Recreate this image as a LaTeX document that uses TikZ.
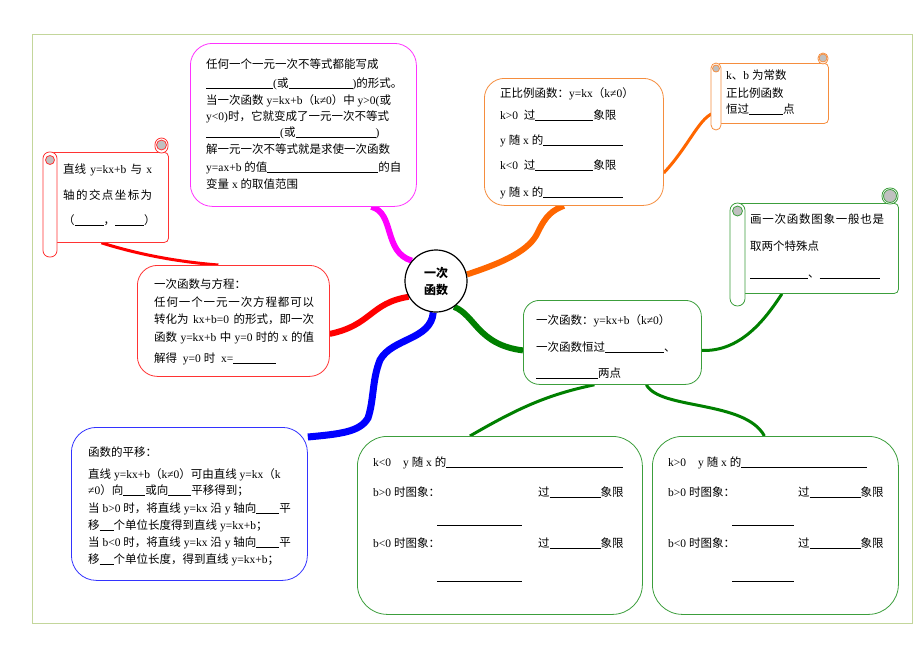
\documentclass[tikz,border=0pt]{standalone}
\usepackage{fontspec}
\setmainfont{Liberation Serif}
\newfontfamily\cjkf{Noto Sans CJK SC}
\XeTeXinterchartokenstate=1
\chardef\cjkcls=7
\makeatletter
\count@="3000
\loop\ifnum\count@<"A000 \XeTeXcharclass\count@=\cjkcls \advance\count@ by 1 \repeat
\count@="FF00
\loop\ifnum\count@<"FFF0 \XeTeXcharclass\count@=\cjkcls \advance\count@ by 1 \repeat
\makeatother
\XeTeXinterchartoks 0 \cjkcls={\begingroup\cjkf}
\XeTeXinterchartoks 4095 \cjkcls={\begingroup\cjkf}
\XeTeXinterchartoks \cjkcls 0={\endgroup}
\XeTeXinterchartoks \cjkcls 4095={\endgroup}
\newcommand\bl[1]{\rule[-1.8pt]{#1pt}{0.6pt}}
\newcommand\spr[2]{\makebox[#1pt][s]{#2}}
\newcommand\hf{\hfill}
\definecolor{magc}{HTML}{FF33FF}
\definecolor{magl}{HTML}{FF00FF}
\definecolor{redc}{HTML}{FF3333}
\definecolor{redl}{HTML}{FF0000}
\definecolor{orc}{HTML}{F58D3E}
\definecolor{orl}{HTML}{FF6600}
\definecolor{grc}{HTML}{3C9E3C}
\definecolor{grl}{HTML}{008000}
\definecolor{blc}{HTML}{3333FF}
\definecolor{bll}{HTML}{0000FF}
\definecolor{framec}{HTML}{C3D69B}
\definecolor{curlc}{HTML}{C0C0C0}
\pgfdeclarelayer{bg}
\pgfsetlayers{bg,main}
\tikzset{
 box/.style={draw=#1, line width=0.8pt, rounded corners=20pt, anchor=north west, fill=white, inner sep=0pt},
 sbody/.style={draw=#1, line width=0.8pt, rounded corners=4pt, anchor=north west, fill=white, inner sep=0pt},
 sroll/.style={draw=#1, line width=0.8pt, fill=white},
 scurl/.style={draw=#1, line width=0.8pt, fill=curlc},
 t/.style={anchor=base west, inner sep=0pt, font=\fontsize{11.5}{13}\selectfont},
 conn/.style={draw=#1, line width=6pt},
 thinconn/.style={draw=#1, line width=3pt},
}
\begin{document}
\begin{tikzpicture}[x=1pt, y=-1pt]
\useasboundingbox (0,0) rectangle (920,651);
\draw[framec, line width=1pt] (32,34) rectangle (912,623);

% ---- boxes
\node[box=magc, rounded corners=22pt, minimum width=226pt, minimum height=163pt] (mag) at (190,43) {};
\node[box=orc, minimum width=179pt, minimum height=127pt] (org) at (484,78) {};
\node[box=redc, minimum width=192pt, minimum height=111pt] (red) at (137,265) {};
\node[box=grc, rounded corners=16pt, minimum width=178pt, minimum height=84pt] (mid) at (523,300) {};
\node[box=blc, rounded corners=25pt, minimum width=236pt, minimum height=153pt] (blu) at (71,427) {};
\node[box=grc, rounded corners=30pt, minimum width=285pt, minimum height=178pt] (bl) at (357,436) {};
\node[box=grc, rounded corners=30pt, minimum width=246pt, minimum height=178pt] (br) at (652,436) {};

% ---- scrolls
% red scroll
\node[sbody=redc, minimum width=118pt, minimum height=90pt] (rs) at (50,152) {};
\draw[sroll=redc, rounded corners=6.5pt] (155,153) rectangle (168,138);
\draw[scurl=redc] (161.5,145) circle (5);
\draw[sroll=redc, rounded corners=6.5pt] (43,152) rectangle (57,257);
\draw[scurl=redc] (50,160) circle (4.5);
% orange scroll
\node[sbody=orc, minimum width=112pt, minimum height=60pt] (os) at (716,63) {};
\draw[sroll=orc, rounded corners=5pt] (818,64) rectangle (828,53);
\draw[scurl=orc] (823,58) circle (4);
\draw[sroll=orc, rounded corners=5pt] (711,63) rectangle (721,130);
\draw[scurl=orc] (716,68.5) circle (3.5);
% green scroll
\node[sbody=grc, minimum width=161pt, minimum height=90pt] (gs) at (737,203) {};
\draw[sroll=grc, rounded corners=7.5pt] (882,204) rectangle (898,188);
\draw[scurl=grc] (890,196) circle (6.5);
\draw[sroll=grc, rounded corners=7.5pt] (730,203) rectangle (745,306);
\draw[scurl=grc] (737.5,211) circle (5);

% ---- centre
\node[circle, draw, line width=1.2pt, fill=white, minimum size=62pt, inner sep=0pt, align=center, font=\fontsize{12}{17}\selectfont\bfseries] (c) at (436,281) {一次\\函数};

% ---- connectors
\begin{pgfonlayer}{bg}
\draw[conn=magl] ([xshift=68pt]mag.south) .. controls (395,213) and (383,252) .. (c.140);
\draw[conn=orl] (c.12) .. controls (505,262) and (530,250) .. (538,232) .. controls (546,215) and (553,210) .. ([xshift=-10pt]org.south);
\draw[conn=redl] (c.210) .. controls (370,303) and (372,325) .. ([yshift=-13pt]red.east);
\draw[conn=bll, line width=7pt] (c.-95) .. controls (431,340) and (392,338) .. (380,360) .. controls (372,380) and (374,400) .. (368,418) .. controls (360,432) and (340,434) .. ([yshift=-10pt]blu.north east);
\draw[conn=grl] (c.-55) .. controls (475,315) and (478,345) .. ([yshift=-8pt]mid.west);
\draw[thinconn=redl] ([xshift=-8pt]rs.south) .. controls (140,255) and (180,262) .. ([xshift=-15pt]red.north);
\draw[thinconn=orl] ([yshift=-31pt]org.east) .. controls (690,145) and (700,115) .. ([yshift=-19pt]os.west);
\draw[thinconn=grl] ([yshift=-8pt]mid.east) .. controls (740,352) and (765,320) .. ([xshift=-36pt]gs.south);
\draw[thinconn=grl] ([xshift=-18pt]mid.south) .. controls (545,395) and (515,410) .. ([xshift=-30pt]bl.north);
\draw[thinconn=grl] ([xshift=34pt]mid.south) .. controls (660,410) and (745,400) .. ([xshift=-11pt]br.north);
\end{pgfonlayer}

% ---- texts: magenta box
\node[t] (m1) at (206,68) {任何一个一元一次不等式都能写成};
\node[t] (m2) at (206,87) {\bl{67}(或\bl{64})的形式。};
\node[t] (m3) at (206,104) {当一次函数 y=kx+b（k≠0）中 y>0(或};
\node[t] (m4) at (206,120) {y<0)时，它就变成了一元一次不等式};
\node[t] (m5) at (206,136) {\bl{74}(或\bl{80})};
\node[t] (m6) at (206,153) {解一元一次不等式就是求使一次函数};
\node[t] (m7) at (206,171) {y=ax+b 的值\bl{111}的自};
\node[t] (m8) at (206,188) {变量 x 的取值范围};
% red scroll
\node[t] (r1) at (63,173) {\spr{89}{直线 y=kx+b 与 x}};
\node[t] (r2) at (63,199) {\spr{89}{轴\hf{}的\hf{}交\hf{}点\hf{}坐\hf{}标\hf{}为}};
\node[t] (r3) at (63,224) {（\bl{29}，\bl{29}）};
% red box
\node[t] (e1) at (154,288) {一次函数与方程：};
\node[t] (e2) at (154,306) {\spr{160}{任\hf{}何\hf{}一\hf{}个\hf{}一\hf{}元\hf{}一\hf{}次\hf{}方\hf{}程\hf{}都\hf{}可\hf{}以}};
\node[t] (e3) at (154,323) {\spr{160}{转化为 kx+b=0 的形式，即一次}};
\node[t] (e4) at (154,341) {\spr{160}{函数 y=kx+b 中 y=0 时的 x 的值}};
\node[t] (e5) at (154,362) {解得\ \ y=0 时\ \ x=\bl{43}};
% orange box
\node[t] (o1) at (500,97) {正比例函数：y=kx（k≠0）};
\node[t] (o2) at (500,119) {k>0\ \ 过\bl{58}象限};
\node[t] (o3) at (500,144) {y 随 x 的\bl{80}};
\node[t] (o4) at (500,169) {k<0\ \ 过\bl{58}象限};
\node[t] (o5) at (500,196) {y 随 x 的\bl{80}};
% orange scroll
\node[t] (s1) at (726,79) {k、b 为常数};
\node[t] (s2) at (726,97) {正比例函数};
\node[t] (s3) at (726,113) {恒过\bl{34}点};
% green scroll
\node[t] (g1) at (750,223) {\spr{134}{画\hf{}一\hf{}次\hf{}函\hf{}数\hf{}图\hf{}象\hf{}一\hf{}般\hf{}也\hf{}是}};
\node[t] (g2) at (750,250) {\spr{69}{取\hf{}两\hf{}个\hf{}特\hf{}殊\hf{}点}};
\node[t] (g3) at (750,277) {\bl{58}、\bl{60}};
% middle box
\node[t] (n1) at (536,324) {一次函数：y=kx+b（k≠0）};
\node[t] (n2) at (536,351) {一次函数恒过\bl{59}、};
\node[t] (n3) at (536,377) {\bl{62}两点};
% blue box
\node[t] (b1) at (88,456) {函数的平移：};
\node[t] (b2) at (88,478) {直线 y=kx+b（k≠0）可由直线 y=kx（k};
\node[t] (b3) at (88,494) {≠0）向\bl{22}或向\bl{23}平移得到；};
\node[t] (b4) at (88,512) {当 b>0 时，将直线 y=kx 沿 y 轴向\bl{23}平};
\node[t] (b5) at (88,529) {移\bl{14}个单位长度得到直线 y=kx+b；};
\node[t] (b6) at (88,546) {当 b<0 时，将直线 y=kx 沿 y 轴向\bl{23}平};
\node[t] (b7) at (88,563) {移\bl{14}个单位长度，得到直线 y=kx+b；};
% bottom left box
\node[t] (la) at (373,466) {k<0};
\node[t] (lb) at (403,466) {y 随 x 的\bl{177}};
\node[t] (lc) at (373,496) {b>0 时图象：};
\node[t] (ld) at (538,496) {过\bl{51}象限};
\node[t] (le) at (437,524) {\bl{85}};
\node[t] (lf) at (373,547) {b<0 时图象：};
\node[t] (lg) at (538,547) {过\bl{51}象限};
\node[t] (lh) at (437,580) {\bl{85}};
% bottom right box
\node[t] (ra) at (668,466) {k>0};
\node[t] (rb) at (698,466) {y 随 x 的\bl{126}};
\node[t] (rc) at (668,496) {b>0 时图象：};
\node[t] (rd) at (798,496) {过\bl{51}象限};
\node[t] (re) at (732,524) {\bl{62}};
\node[t] (rf) at (668,547) {b<0 时图象：};
\node[t] (rg) at (798,547) {过\bl{51}象限};
\node[t] (rh) at (732,580) {\bl{62}};
\end{tikzpicture}
\end{document}
